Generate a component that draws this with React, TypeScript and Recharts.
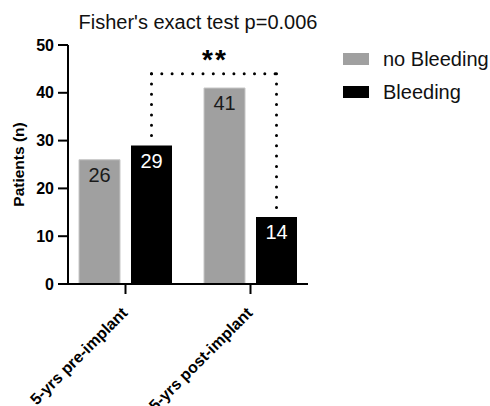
import {
  ComposedChart,
  Bar,
  XAxis,
  YAxis,
  LabelList,
  ReferenceLine,
  Legend,
} from 'recharts';

// data
const categories = ['5-yrs pre-implant', '5-yrs post-implant'];
const noBleeding = [26, 41];
const bleeding = [29, 14];
const yTicks = [0, 10, 20, 30, 40, 50];
const seriesNames = ['no Bleeding', 'Bleeding'];
const title = "Fisher's exact test p=0.006";
const bracketFrom = 0;
const bracketTo = 1;
const bracketLevel = 44;
const bracketText = '**';

const FONT = '"Liberation Sans", Arial, Helvetica, sans-serif';
const GREY = '#a0a0a0';
const BLACK = '#000000';

// layout
const W = 490;
const H = 406;
const Y_AXIS_W = 68;
const PLOT_W = 240;
const X_PAD = -5;
const BAR_SIZE = 41;
const BAR_GAP = 11;
const BAND = (PLOT_W - 2 * X_PAD) / categories.length;
// centre of the "Bleeding" bar relative to its category centre, in category units
const BLEED_SHIFT = (BAR_GAP + BAR_SIZE) / 2 / BAND;

const data = categories.map((name, i) => ({
  name,
  idx: i,
  noBleeding: noBleeding[i],
  bleeding: bleeding[i],
}));

const bx0 = bracketFrom + BLEED_SHIFT;
const bx1 = bracketTo + BLEED_SHIFT;

const dotted = {
  stroke: '#000',
  strokeWidth: 3,
  strokeDasharray: '0 10.3',
  strokeLinecap: 'round' as const,
};

function XTick(props: any) {
  const { x, y, payload } = props;
  const tx = x + 3;
  const ty = y + 18;
  return (
    <text
      x={tx}
      y={ty}
      transform={`rotate(-45, ${tx}, ${ty})`}
      textAnchor="end"
      fontFamily={FONT}
      fontWeight="bold"
      fontSize={16}
      fill="#000"
    >
      {payload.value}
    </text>
  );
}

function LegendBox(props: any) {
  const items = [...(props.payload || [])].sort(
    (a: any, b: any) => seriesNames.indexOf(a.value) - seriesNames.indexOf(b.value)
  );
  return (
    <div style={{ fontFamily: FONT }}>
      {items.map((it: any) => (
        <div key={it.value} style={{ display: 'flex', alignItems: 'center', height: 33.4 }}>
          <div
            style={{
              width: 26,
              height: 12,
              background: it.color,
              marginRight: 14,
            }}
          />
          <span style={{ fontSize: 20, color: '#111', lineHeight: '20px' }}>{it.value}</span>
        </div>
      ))}
    </div>
  );
}

export default function App() {
  return (
    <div style={{ position: 'absolute', left: 0, top: 0, width: W, height: H, background: '#fff' }}>
      <div
        style={{
          position: 'absolute',
          left: 0,
          top: 12,
          width: 396,
          textAlign: 'center',
          fontFamily: FONT,
          fontSize: 20,
          lineHeight: '20px',
          color: '#111',
        }}
      >
        {title}
      </div>
      <ComposedChart
        width={W}
        height={H}
        data={data}
        margin={{ top: 45, right: W - Y_AXIS_W - PLOT_W, bottom: 92, left: 0 }}
        barSize={BAR_SIZE}
        barGap={BAR_GAP}
      >
        <XAxis
          dataKey="name"
          padding={{ left: X_PAD, right: X_PAD }}
          height={30}
          tickSize={10}
          tickLine={{ stroke: '#000', strokeWidth: 2 }}
          axisLine={{ stroke: '#000', strokeWidth: 2 }}
          tick={<XTick />}
          interval={0}
        />
        <XAxis
          xAxisId="num"
          dataKey="idx"
          type="number"
          domain={[-0.5, categories.length - 0.5]}
          padding={{ left: X_PAD, right: X_PAD }}
          allowDataOverflow
          hide
        />
        <YAxis
          width={Y_AXIS_W}
          domain={[0, 50]}
          ticks={yTicks}
          interval={0}
          tickSize={10}
          tickMargin={4}
          tickLine={{ stroke: '#000', strokeWidth: 2 }}
          axisLine={{ stroke: '#000', strokeWidth: 2 }}
          tick={{ fill: '#000', fontSize: 16, fontWeight: 'bold', fontFamily: FONT }}
          label={{
            content: (p: any) => {
              const vb = p.viewBox;
              const cx = 24;
              const cy = vb.y + vb.height / 2;
              return (
                <text
                  x={cx}
                  y={cy}
                  transform={`rotate(-90, ${cx}, ${cy})`}
                  textAnchor="middle"
                  fontFamily={FONT}
                  fontWeight="bold"
                  fontSize={15.5}
                  fill="#000"
                >
                  Patients (n)
                </text>
              );
            },
          }}
        />
        <Legend
          layout="horizontal"
          verticalAlign="middle"
          align="center"
          wrapperStyle={{ left: 343, top: 42, width: 150, height: 70 }}
          content={<LegendBox />}
        />
        <Bar
          dataKey="noBleeding"
          name={seriesNames[0]}
          fill={GREY}
          stroke="#c6c6c6"
          strokeWidth={1}
          isAnimationActive={false}
        >
          <LabelList
            dataKey="noBleeding"
            position="insideTop"
            offset={8}
            fill="#1a1a1a"
            fontSize={20}
            fontFamily={FONT}
          />
        </Bar>
        <Bar dataKey="bleeding" name={seriesNames[1]} fill={BLACK} isAnimationActive={false}>
          <LabelList
            dataKey="bleeding"
            position="insideTop"
            offset={8}
            fill="#ffffff"
            fontSize={20}
            fontFamily={FONT}
          />
        </Bar>
        <ReferenceLine
          xAxisId="num"
          segment={[
            { x: bx0, y: bracketLevel },
            { x: bx0, y: bleeding[bracketFrom] },
          ]}
          {...dotted}
        />
        <ReferenceLine
          xAxisId="num"
          segment={[
            { x: bx1, y: bracketLevel },
            { x: bx1, y: bleeding[bracketTo] },
          ]}
          {...dotted}
        />
        <ReferenceLine
          xAxisId="num"
          segment={[
            { x: bx0, y: bracketLevel },
            { x: bx1, y: bracketLevel },
          ]}
          {...dotted}
          label={{
            content: (p: any) => {
              const vb = p.viewBox;
              return (
                <text
                  x={vb.x + vb.width / 2 + 1}
                  y={vb.y - 5}
                  textAnchor="middle"
                  fontFamily={FONT}
                  fontWeight="bold"
                  fontSize={28}
                  letterSpacing={2}
                  fill="#000"
                >
                  {bracketText}
                </text>
              );
            },
          }}
        />
      </ComposedChart>
    </div>
  );
}
